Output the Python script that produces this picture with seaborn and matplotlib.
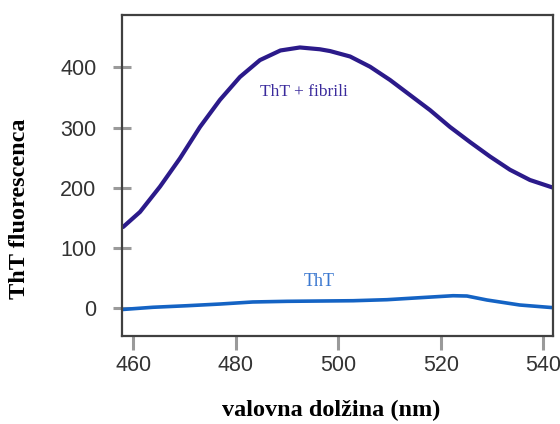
import numpy as np
import pandas as pd
import seaborn as sns
import matplotlib.pyplot as plt

# valovna dolžina (nm) in fluorescenca, odčitano s slike
wl_fibrili = [458, 461.3, 465.2, 469.1, 473, 476.9, 480.8, 484.7, 488.7, 492.5,
              496.4, 498.4, 502.3, 506.2, 510.1, 514, 517.9, 521.8, 525.7,
              529.6, 533.5, 537.4, 542]
fl_fibrili = [135, 160, 202, 249, 301, 346, 384, 412, 428, 433,
              430, 427, 418, 401, 379, 354, 329, 301, 276,
              252, 230, 213, 200]

wl_tht = [457.8, 463.8, 470.5, 476.9, 483.3, 490, 496.4, 502.9, 509.5,
          515.9, 522.4, 525.1, 529, 535.4, 542]
fl_tht = [-2, 1.7, 4.3, 7.1, 10.5, 11.6, 12.1, 12.6, 14.3,
          17.6, 20.9, 20.4, 13.8, 5.5, 1]

x_ticks = [460, 480, 500, 520, 540]
y_ticks = [0, 100, 200, 300, 400]

df_f = pd.DataFrame({"wl": wl_fibrili, "fl": fl_fibrili})
df_t = pd.DataFrame({"wl": wl_tht, "fl": fl_tht})

sns.set_style("white")
fig = plt.figure(figsize=(5.6, 4.24), dpi=100)
ax = fig.add_axes([0.218, 0.2075, 0.7695, 0.757])

sns.lineplot(data=df_f, x="wl", y="fl", ax=ax, color="#2b1a8a", linewidth=3.0)
sns.lineplot(data=df_t, x="wl", y="fl", ax=ax, color="#1463c4", linewidth=2.6)

ax.set_xlim(457.8, 541.9)
ax.set_ylim(-46, 486.8)
ax.set_xticks(x_ticks)
ax.set_yticks(y_ticks)

# napisi ob krivuljah
ax.text(493.3, 359, "ThT + fibrili", color="#3a2a9c", fontsize=12.5,
        family="Liberation Serif", ha="center", va="center")
ax.text(496.2, 44, "ThT", color="#3b78d0", fontsize=13,
        family="Liberation Serif", ha="center", va="center")

# osi
for s in ["left", "right", "top", "bottom"]:
    ax.spines[s].set_visible(True)
    ax.spines[s].set_color("#404040")
    ax.spines[s].set_linewidth(1.6)

ax.tick_params(axis="y", left=True, direction="inout", length=13, width=2.2,
               color="#9a9a9a", labelsize=15.5, labelcolor="#333333", pad=12)
ax.tick_params(axis="x", bottom=True, direction="out", length=10, width=2.2,
               color="#9a9a9a", labelsize=15.5, labelcolor="#333333", pad=4)
for lab in ax.get_xticklabels() + ax.get_yticklabels():
    lab.set_family("Liberation Sans")

ax.set_xlabel("valovna dolžina (nm)", family="Liberation Serif",
              fontweight="bold", fontsize=17.5, color="black")
ax.set_ylabel("ThT fluorescenca", family="Liberation Serif",
              fontweight="bold", fontsize=17.5, color="black")
ax.xaxis.set_label_coords(0.485, -0.2)
ax.yaxis.set_label_coords(-0.213, 0.397)

fig.savefig("out.png", dpi=100)
